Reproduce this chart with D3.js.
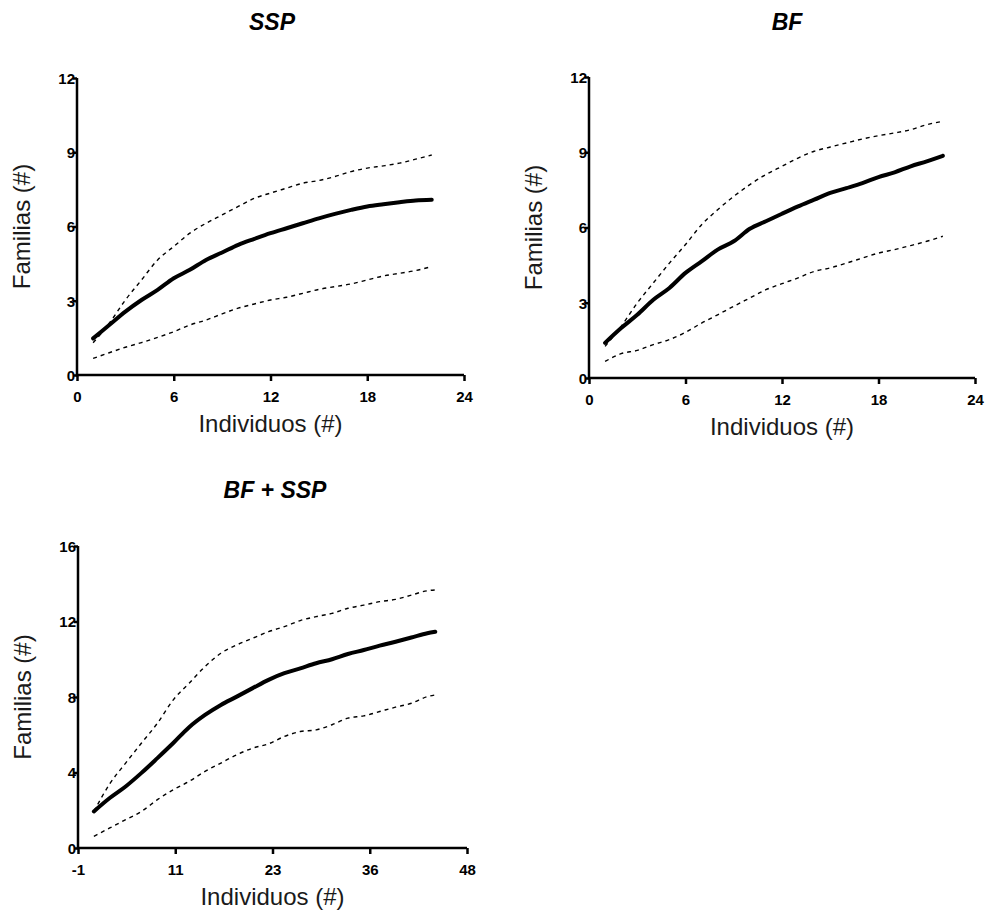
<!DOCTYPE html>
<html>
<head>
<meta charset="utf-8">
<script src="https://cdn.jsdelivr.net/npm/d3@7"></script>
<style>
  body { margin: 0; background: #fff; }
  svg text { font-family: "Liberation Sans", Arial, sans-serif; }
</style>
</head>
<body>
<svg id="chart" width="986" height="913"></svg>
<script>
// ---- data ----
var ssp_x     = [1,2,3,4,5,6,7,8,9,10,11,12,13,14,15,16,17,18,19,20,21,22];
var ssp_mean  = [1.48,2.02,2.56,3.03,3.44,3.91,4.25,4.65,4.95,5.26,5.50,5.73,5.93,6.13,6.33,6.51,6.67,6.81,6.90,6.98,7.05,7.08];
var ssp_upper = [1.30,2.09,3.03,3.84,4.65,5.19,5.73,6.13,6.47,6.81,7.14,7.35,7.55,7.75,7.86,8.02,8.22,8.36,8.45,8.56,8.72,8.89];
var ssp_lower = [0.67,0.90,1.12,1.31,1.52,1.75,2.02,2.22,2.47,2.70,2.87,3.03,3.14,3.30,3.46,3.57,3.68,3.84,4.00,4.11,4.22,4.38];

var bf_x     = [1,2,3,4,5,6,7,8,9,10,11,12,13,14,15,16,17,18,19,20,21,22];
var bf_mean  = [1.40,1.99,2.52,3.12,3.59,4.19,4.65,5.12,5.45,5.95,6.25,6.55,6.84,7.11,7.38,7.57,7.77,8.01,8.20,8.44,8.64,8.86];
var bf_upper = [1.26,2.06,2.99,3.79,4.58,5.32,6.11,6.71,7.24,7.71,8.11,8.44,8.77,9.04,9.21,9.37,9.53,9.66,9.77,9.90,10.10,10.23];
var bf_lower = [0.66,0.97,1.10,1.33,1.53,1.82,2.19,2.52,2.86,3.19,3.52,3.76,3.99,4.25,4.39,4.58,4.78,4.98,5.12,5.28,5.45,5.65];

var all_x     = [1,3,5,7,9,11,13,15,17,19,21,23,25,27,29,31,33,35,37,39,41,43,44];
var all_mean  = [1.94,2.65,3.26,3.98,4.76,5.56,6.40,7.05,7.58,8.02,8.47,8.91,9.26,9.52,9.79,10.00,10.28,10.49,10.72,10.93,11.15,11.38,11.46];
var all_upper = [1.94,3.40,4.50,5.56,6.61,7.85,8.73,9.61,10.32,10.76,11.11,11.46,11.73,12.05,12.26,12.43,12.70,12.87,13.05,13.17,13.40,13.63,13.67];
var all_lower = [0.62,1.06,1.50,1.94,2.56,3.09,3.53,4.06,4.50,4.94,5.29,5.52,5.91,6.17,6.26,6.53,6.88,7.00,7.23,7.46,7.67,8.02,8.11];

// ticks
var ticks_x24     = [0, 6, 12, 18, 24];
var ticks_y12     = [0, 3, 6, 9, 12];
var ticks_x48     = [-1, 11.25, 23.5, 35.75, 48];
var ticks_x48_lbl = ["-1", "11", "23", "36", "48"];
var ticks_y16     = [0, 4, 8, 12, 16];

var titles = ["SSP", "BF", "BF + SSP"];
var xLabel = "Individuos (#)";
var yLabel = "Familias (#)";

var svg = d3.select('#chart');

function drawPanel(opt){
  var g = svg.append('g');
  var x = d3.scaleLinear().domain(opt.xdom).range([opt.left, opt.right]);
  var y = d3.scaleLinear().domain(opt.ydom).range([opt.bottom, opt.top]);

  // title
  g.append('text')
    .attr('x', opt.titleX).attr('y', opt.titleY)
    .attr('text-anchor', 'middle')
    .style('font-size', '23px').style('font-weight', 'bold').style('font-style', 'italic')
    .text(opt.title);

  // axes
  var xAxis = d3.axisBottom(x).tickValues(opt.xticks).tickSizeInner(6).tickSizeOuter(0)
    .tickFormat(function(d, i){ return opt.xlabels ? opt.xlabels[i] : d; });
  var yAxis = d3.axisLeft(y).tickValues(opt.yticks).tickSizeInner(4).tickSizeOuter(0);

  var gx = g.append('g').attr('transform', 'translate(0,' + opt.bottom + ')').call(xAxis);
  var gy = g.append('g').attr('transform', 'translate(' + opt.left + ',0)').call(yAxis);
  [gx, gy].forEach(function(a){
    a.attr('font-size', null).attr('font-family', null);
    a.select('.domain').attr('stroke', '#000').attr('stroke-width', 2.5);
    a.selectAll('.tick line').attr('stroke', '#000').attr('stroke-width', 2.5);
    a.selectAll('.tick text').attr('fill', '#000')
      .style('font-size', '15px').style('font-weight', 'bold')
      .style('font-family', '"Liberation Sans", Arial, sans-serif');
  });
  gx.selectAll('.tick text').attr('dy', 0).attr('y', 27);
  gy.selectAll('.tick text').attr('x', -2).attr('dy', '0.36em');
  // extend domain lines to meet at the corner
  gx.select('.domain').attr('d', 'M' + (opt.left - 1.25) + ',0H' + opt.right);
  gy.select('.domain').attr('d', 'M0,' + (opt.bottom + 1.25) + 'V' + opt.top);

  // axis labels
  g.append('text')
    .attr('x', (opt.left + opt.right) / 2).attr('y', opt.bottom + 57)
    .attr('text-anchor', 'middle').attr('fill', '#1a1a1a')
    .style('font-size', '24px')
    .text(xLabel);
  g.append('text')
    .attr('transform', 'translate(' + (opt.left - 47) + ',' + ((opt.top + opt.bottom) / 2) + ') rotate(-90)')
    .attr('text-anchor', 'middle').attr('fill', '#1a1a1a')
    .style('font-size', '24px')
    .text(yLabel);

  var line = function(ys){
    return d3.line().curve(d3.curveMonotoneX)
      .x(function(d, i){ return x(opt.xs[i]); })
      .y(function(d){ return y(d); })(ys);
  };

  g.append('path').attr('d', line(opt.upper))
    .attr('fill', 'none').attr('stroke', '#000').attr('stroke-width', 1.4)
    .attr('stroke-dasharray', '4,4');
  g.append('path').attr('d', line(opt.lower))
    .attr('fill', 'none').attr('stroke', '#000').attr('stroke-width', 1.4)
    .attr('stroke-dasharray', '4,4');
  g.append('path').attr('d', line(opt.mean))
    .attr('fill', 'none').attr('stroke', '#000').attr('stroke-width', 4)
    .attr('stroke-linecap', 'round');
}

drawPanel({title: titles[0], titleX: 272, titleY: 30,
  left: 77, right: 464, top: 78, bottom: 375,
  xdom: [0, 24], ydom: [0, 12], xticks: ticks_x24, yticks: ticks_y12,
  xs: ssp_x, mean: ssp_mean, upper: ssp_upper, lower: ssp_lower});

drawPanel({title: titles[1], titleX: 787, titleY: 30,
  left: 589, right: 975, top: 77, bottom: 378,
  xdom: [0, 24], ydom: [0, 12], xticks: ticks_x24, yticks: ticks_y12,
  xs: bf_x, mean: bf_mean, upper: bf_upper, lower: bf_lower});

drawPanel({title: titles[2], titleX: 275, titleY: 498,
  left: 78, right: 467, top: 546, bottom: 848,
  xdom: [-1, 48], ydom: [0, 16], xticks: ticks_x48, xlabels: ticks_x48_lbl, yticks: ticks_y16,
  xs: all_x, mean: all_mean, upper: all_upper, lower: all_lower});
</script>
</body>
</html>
